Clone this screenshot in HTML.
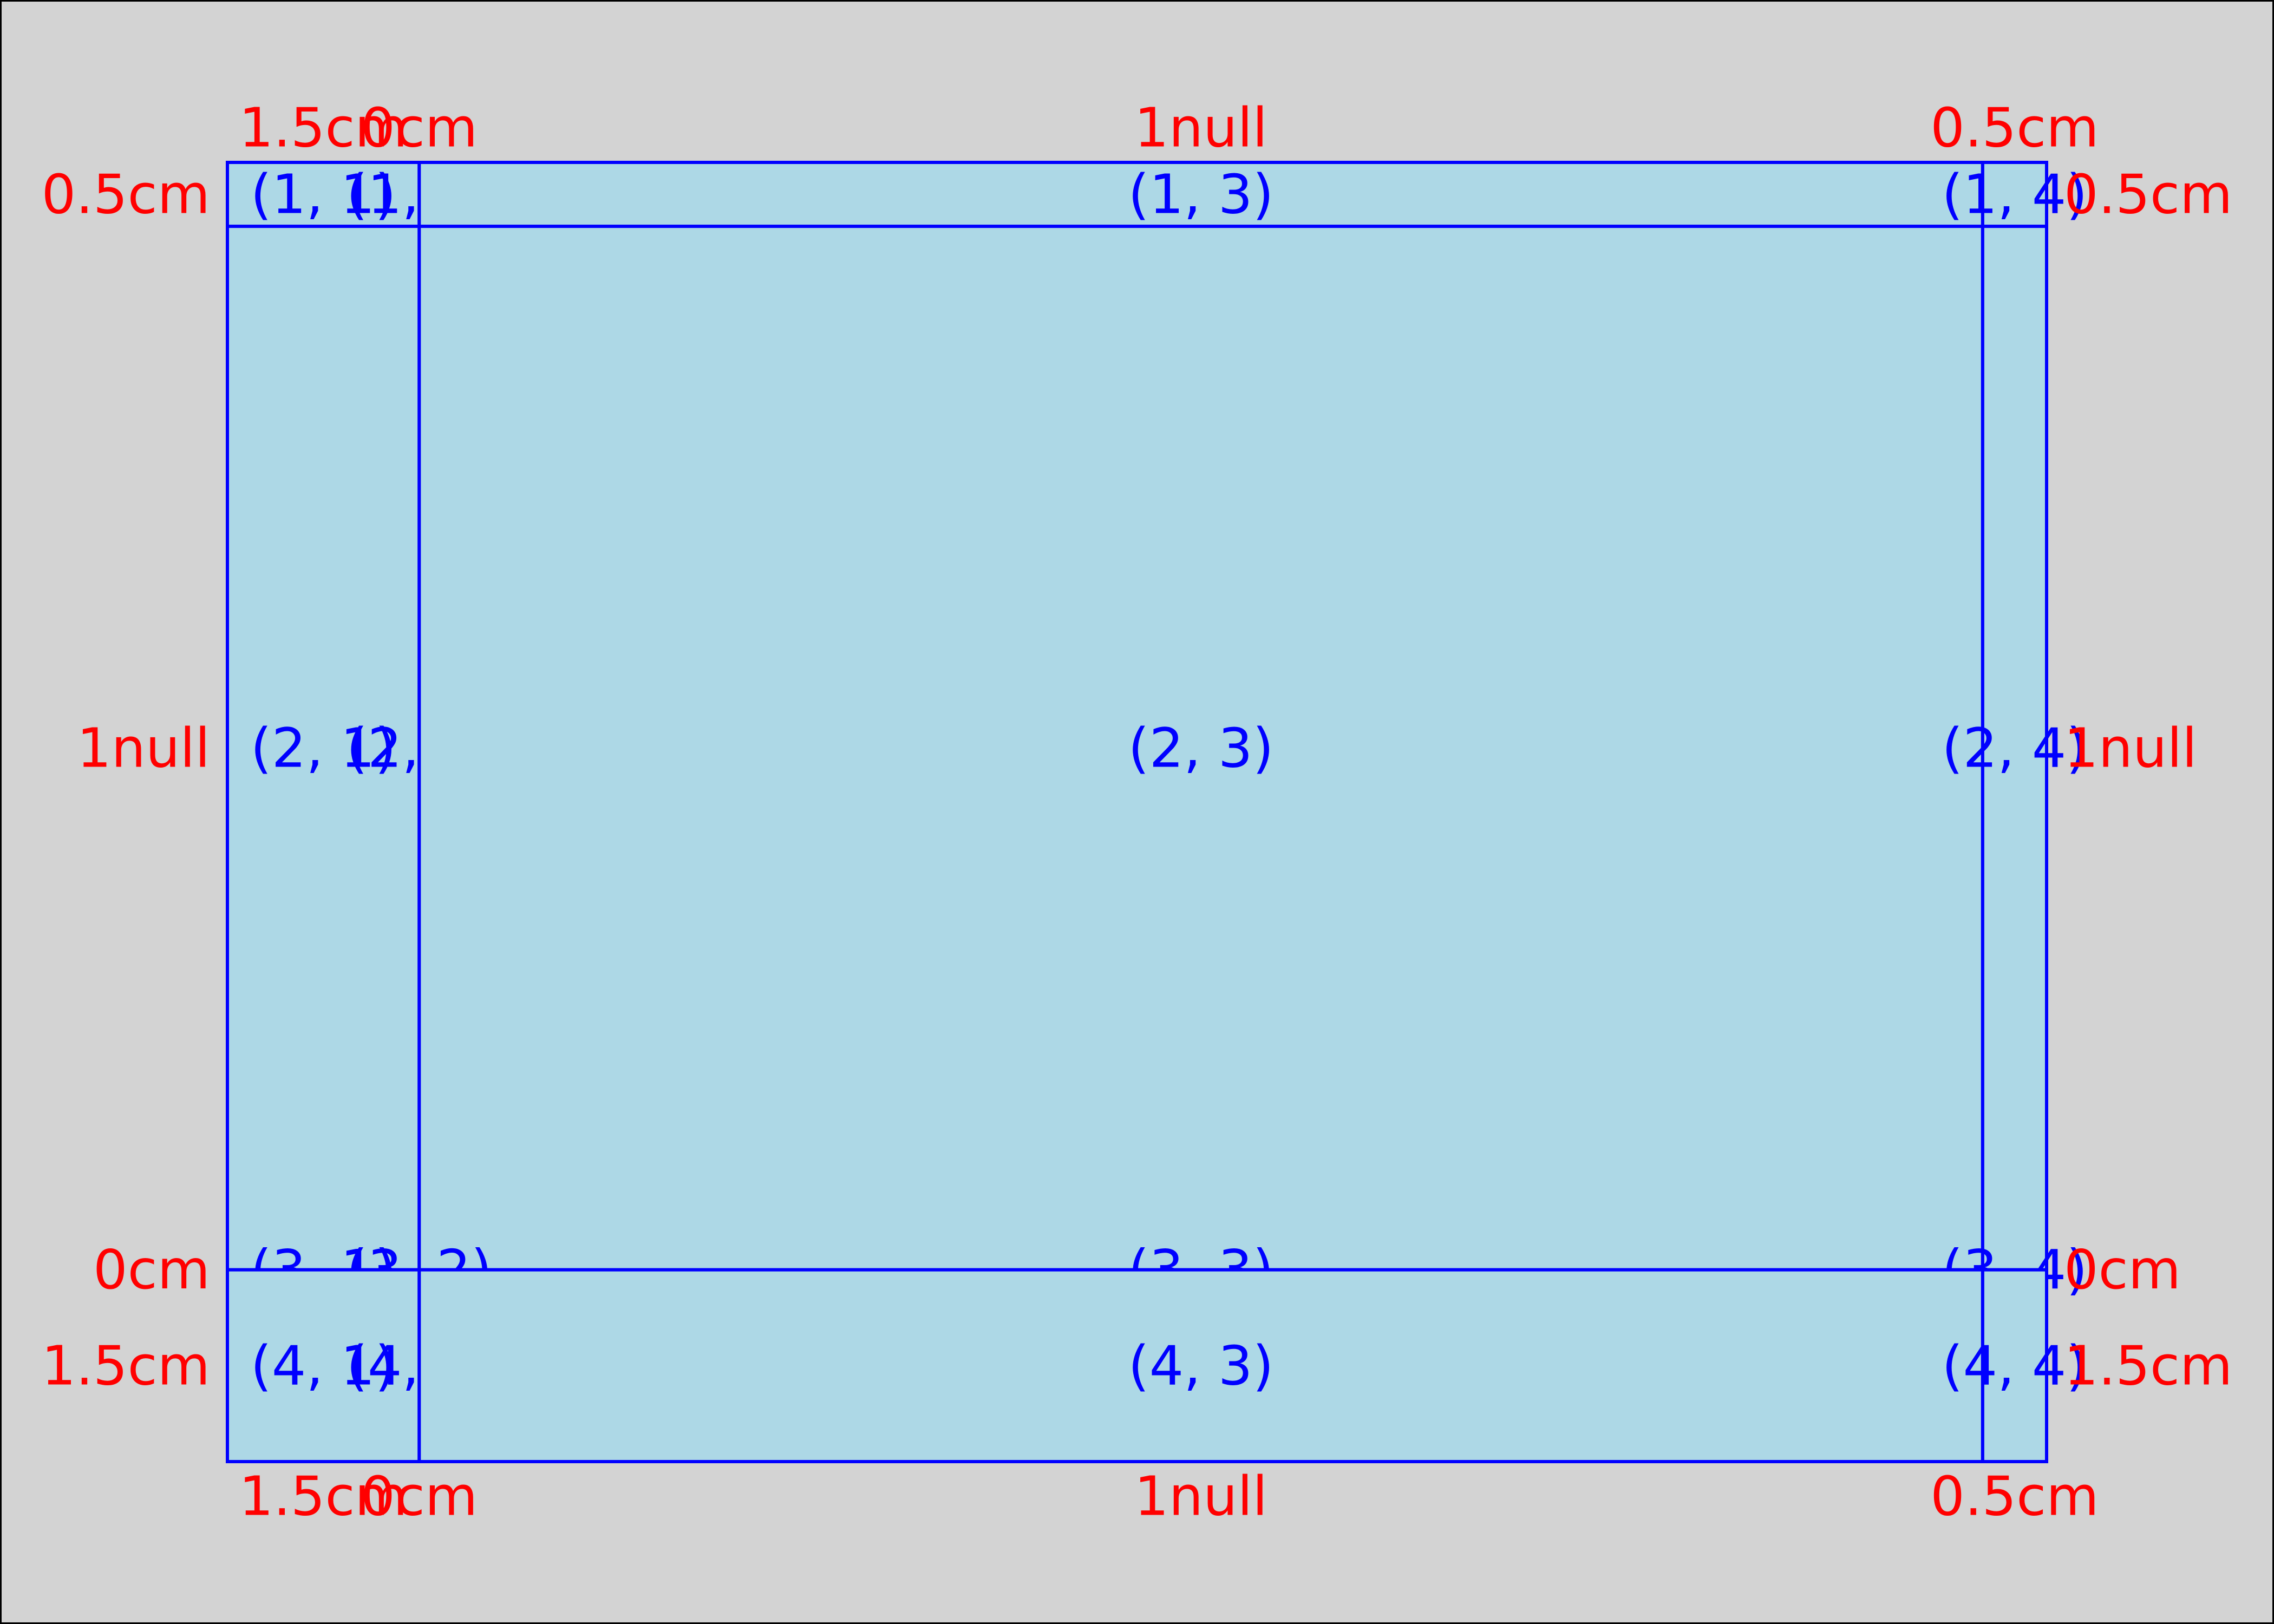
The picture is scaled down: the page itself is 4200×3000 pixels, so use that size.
<!DOCTYPE html>
<html><head><meta charset="utf-8"><style>html,body{margin:0;padding:0;background:#d3d3d3}svg{display:block}</style></head>
<body>
<svg id="chart" width="4200" height="3000" viewBox="0 0 4200 3000" xmlns="http://www.w3.org/2000/svg" font-family="DejaVu Sans, Liberation Sans, sans-serif" font-size="100">
<rect x="1.5" y="1.5" width="4197" height="2997" fill="#d3d3d3" stroke="#000" stroke-width="3"/>
<g id="g"></g>
</svg>
<script>
const colLabels = ["1.5cm","0cm","1null","0.5cm"];
const rowLabels = ["0.5cm","1null","0cm","1.5cm"];
const colSizes = [1.5, 0, 1, 0.5];
const rowSizes = [0.5, 1, 0, 1.5];
const colIsNull = [false,false,true,false];
const rowIsNull = [false,true,false,false];

const L=420,R=3780,T=300,B=2700,CM=236.2;
function layout(sizes,isNull,start,end){
  let fixed=0,nul=0;
  sizes.forEach((s,i)=>{ if(isNull[i]) nul+=s; else fixed+=s*CM; });
  const per=(end-start-fixed)/(nul||1);
  const edges=[start]; let p=start;
  sizes.forEach((s,i)=>{ p+= isNull[i]? s*per : s*CM; edges.push(p); });
  return edges;
}
const xs=layout(colSizes,colIsNull,L,R), ys=layout(rowSizes,rowIsNull,T,B);
const g=document.getElementById('g'), NS="http://www.w3.org/2000/svg";
function mk(tag,attrs){const e=document.createElementNS(NS,tag);for(const k in attrs)e.setAttribute(k,attrs[k]);g.appendChild(e);return e;}
for(let r=0;r<4;r++)for(let c=0;c<4;c++){
  const cell=mk('rect',{x:xs[c],y:ys[r],width:xs[c+1]-xs[c],height:ys[r+1]-ys[r],fill:'#add8e6',stroke:'#0000ff','stroke-width':6});
  
  
  const t=mk('text',{x:(xs[c]+xs[c+1])/2,y:(ys[r]+ys[r+1])/2,'text-anchor':'middle','dominant-baseline':'central',fill:'#0000ff'});
  t.textContent='('+(r+1)+', '+(c+1)+')';
  
  
}
for(let c=0;c<4;c++){
  const cx=(xs[c]+xs[c+1])/2;
  const t1=mk('text',{x:cx,y:236,'text-anchor':'middle','dominant-baseline':'central',fill:'#ff0000'});
  t1.textContent=colLabels[c];
  
  
  const t2=mk('text',{x:cx,y:2764,'text-anchor':'middle','dominant-baseline':'central',fill:'#ff0000'});
  t2.textContent=colLabels[c];
  
  
}
for(let r=0;r<4;r++){
  const cy=(ys[r]+ys[r+1])/2;
  const t1=mk('text',{x:388,y:cy,'text-anchor':'end','dominant-baseline':'central',fill:'#ff0000'});
  t1.textContent=rowLabels[r];
  
  
  const t2=mk('text',{x:3812,y:cy,'text-anchor':'start','dominant-baseline':'central',fill:'#ff0000'});
  t2.textContent=rowLabels[r];
  
  
}
</script>
</body></html>
